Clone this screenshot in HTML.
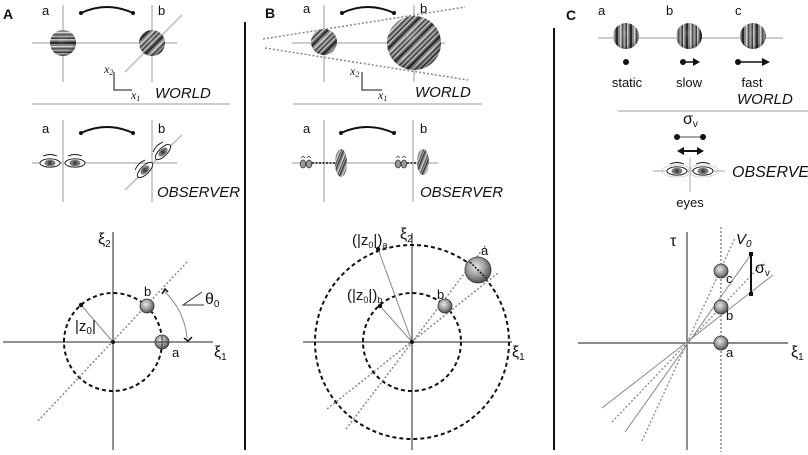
<!DOCTYPE html>
<html><head><meta charset="utf-8"><style>
html,body{margin:0;padding:0;background:#fff;}
svg{display:block;}
text{font-family:"Liberation Sans",sans-serif;fill:#111;}
.it{font-style:italic;}
.sr{font-family:"Liberation Serif",serif;font-style:italic;}
</style></head><body>
<svg width="808" height="455" viewBox="0 0 808 455" xmlns="http://www.w3.org/2000/svg">
<defs>
<g id="stripes">
 <rect x="0" y="-50" width="2" height="100" fill="#2a2a2a"/>
 <rect x="2" y="-50" width="2" height="100" fill="#8a8a8a"/>
 <rect x="4" y="-50" width="1.5" height="100" fill="#d8d8d8"/>
 <rect x="5.5" y="-50" width="2" height="100" fill="#555"/>
 <rect x="7.5" y="-50" width="2" height="100" fill="#a5a5a5"/>
 <rect x="9.5" y="-50" width="1.5" height="100" fill="#3a3a3a"/>
 <rect x="11" y="-50" width="1.5" height="100" fill="#c8c8c8"/>
 <rect x="12.5" y="-50" width="1.5" height="100" fill="#666"/>
</g>
<pattern id="gv" patternUnits="userSpaceOnUse" width="14" height="60"><use href="#stripes" y="50"/></pattern>
<pattern id="gh" patternUnits="userSpaceOnUse" width="14" height="60" patternTransform="rotate(90)"><use href="#stripes" y="50"/></pattern>
<pattern id="gd" patternUnits="userSpaceOnUse" width="14" height="60" patternTransform="rotate(45)"><use href="#stripes" y="50"/></pattern>
<pattern id="gs" patternUnits="userSpaceOnUse" width="9" height="60" patternTransform="rotate(22) scale(0.65 1)"><use href="#stripes" y="50"/></pattern>
<radialGradient id="ball" cx="0.42" cy="0.38" r="0.65">
 <stop offset="0" stop-color="#e8e8e8"/><stop offset="0.55" stop-color="#999"/><stop offset="1" stop-color="#4a4a4a"/>
</radialGradient>
<radialGradient id="shade" cx="0.45" cy="0.4" r="0.6">
 <stop offset="0" stop-color="#fff" stop-opacity="0.15"/><stop offset="0.7" stop-color="#000" stop-opacity="0"/><stop offset="1" stop-color="#000" stop-opacity="0.3"/>
</radialGradient>
<g id="eye">
 <ellipse cx="0" cy="0" rx="10" ry="4.2" fill="#fff" stroke="#111" stroke-width="0.9"/>
 <ellipse cx="0" cy="0" rx="5.5" ry="3.3" fill="#777"/>
 <ellipse cx="0" cy="0" rx="2" ry="2" fill="#444"/>
 <path d="M-7 -7 Q0 -10 7 -7" fill="none" stroke="#111" stroke-width="0.9"/>
</g>
<g id="seye">
 <ellipse cx="0" cy="0" rx="2.8" ry="4" fill="#999" stroke="#333" stroke-width="0.8"/>
 <path d="M-2 -6 L0 -8 L2 -6" fill="none" stroke="#333" stroke-width="0.7"/>
</g>
</defs>

<rect width="808" height="455" fill="#fff"/>

<!-- dividers -->
<line x1="245" y1="22" x2="245" y2="450" stroke="#111" stroke-width="2"/>
<line x1="554" y1="28" x2="554" y2="450" stroke="#111" stroke-width="2"/>

<!-- ===== PANEL A ===== -->
<text x="3" y="19" font-size="14" font-weight="bold">A</text>
<text x="42" y="15" font-size="13">a</text>
<text x="158" y="15" font-size="13">b</text>
<g stroke="#bbb" stroke-width="1.5">
 <line x1="63" y1="5" x2="63" y2="82"/><line x1="152" y1="5" x2="152" y2="82"/>
 <line x1="32" y1="43" x2="177" y2="43"/><line x1="125" y1="72" x2="182" y2="15"/>
</g>
<circle cx="63" cy="43" r="13" fill="url(#gh)"/><circle cx="63" cy="43" r="13" fill="url(#shade)"/>
<circle cx="152" cy="43" r="13" fill="url(#gd)"/><circle cx="152" cy="43" r="13" fill="url(#shade)"/>
<path d="M81 13 Q107 1 133 13" fill="none" stroke="#111" stroke-width="2"/>
<circle cx="81" cy="13" r="2" fill="#111"/><circle cx="133" cy="13" r="2" fill="#111"/>
<polyline points="114,72 114,90 132,90" fill="none" stroke="#111" stroke-width="1"/>
<text x="104" y="73" font-size="12" class="sr">x<tspan font-size="8" dy="2">2</tspan></text>
<text x="131" y="99" font-size="12" class="sr">x<tspan font-size="8" dy="2">1</tspan></text>
<text x="155" y="98" font-size="15" class="it">WORLD</text>
<line x1="32" y1="104" x2="230" y2="104" stroke="#999" stroke-width="1"/>

<text x="42" y="133" font-size="13">a</text>
<text x="158" y="133" font-size="13">b</text>
<g stroke="#bbb" stroke-width="1.5">
 <line x1="63" y1="120" x2="63" y2="202"/><line x1="152" y1="120" x2="152" y2="202"/>
 <line x1="32" y1="163" x2="177" y2="163"/><line x1="125" y1="190" x2="182" y2="135"/>
</g>
<path d="M81 133 Q107 121 133 133" fill="none" stroke="#111" stroke-width="2"/>
<circle cx="81" cy="133" r="2" fill="#111"/><circle cx="133" cy="133" r="2" fill="#111"/>
<use href="#eye" transform="translate(50,163)"/>
<use href="#eye" transform="translate(75,163)"/>
<use href="#eye" transform="translate(163,152) rotate(-45)"/>
<use href="#eye" transform="translate(145,170) rotate(-45)"/>
<text x="157" y="197" font-size="15" class="it">OBSERVER</text>

<!-- A bottom -->
<line x1="113" y1="232" x2="113" y2="450" stroke="#222" stroke-width="1"/>
<line x1="3" y1="342" x2="213" y2="342" stroke="#222" stroke-width="1"/>
<circle cx="113" cy="342" r="49" fill="none" stroke="#111" stroke-width="2" stroke-dasharray="4 3"/>
<line x1="38" y1="421" x2="188" y2="261" stroke="#888" stroke-width="1.5" stroke-dasharray="2 2"/>
<line x1="113" y1="342" x2="81" y2="305" stroke="#888" stroke-width="1"/>
<circle cx="81" cy="305" r="2.2" fill="#111"/>
<circle cx="113" cy="342" r="2" fill="#111"/>
<circle cx="147" cy="306" r="7" fill="url(#ball)" stroke="#333" stroke-width="0.8"/>
<circle cx="162" cy="342" r="7" fill="url(#ball)" stroke="#333" stroke-width="0.8"/>
<line x1="162" y1="336" x2="162" y2="348" stroke="#333" stroke-width="1"/>
<line x1="156" y1="342" x2="168" y2="342" stroke="#333" stroke-width="1"/>
<text x="98" y="244" font-size="16">ξ<tspan font-size="10" dy="3">2</tspan></text>
<text x="214" y="357" font-size="16">ξ<tspan font-size="10" dy="3">1</tspan></text>
<text x="144" y="296" font-size="13">b</text>
<text x="172" y="357" font-size="13">a</text>
<text x="75" y="331" font-size="15">|z<tspan font-size="10" dy="3">0</tspan><tspan dy="-3">|</tspan></text>
<path d="M164 291 A72 72 0 0 1 187 338" fill="none" stroke="#888" stroke-width="1"/>
<path d="M162 294 L165 289 L168 292" fill="none" stroke="#111" stroke-width="1.5"/>
<path d="M184 338 L188 341 L192 337" fill="none" stroke="#111" stroke-width="1.5"/>
<polyline points="202,292 183,305 204,305" fill="none" stroke="#333" stroke-width="1"/>
<text x="205" y="304" font-size="16">θ<tspan font-size="10" dy="3">0</tspan></text>

<!-- ===== PANEL B ===== -->
<text x="265" y="18" font-size="14" font-weight="bold">B</text>
<text x="303" y="13" font-size="13">a</text>
<text x="420" y="13" font-size="13">b</text>
<g stroke="#bbb" stroke-width="1.5">
 <line x1="324" y1="5" x2="324" y2="82"/><line x1="414" y1="5" x2="414" y2="82"/>
 <line x1="292" y1="43" x2="445" y2="43"/>
</g>
<g stroke="#888" stroke-width="1.5" stroke-dasharray="2 2">
 <line x1="263" y1="39" x2="465" y2="7"/><line x1="265" y1="48" x2="468" y2="80"/>
</g>
<circle cx="324" cy="42" r="13" fill="url(#gd)"/><circle cx="324" cy="42" r="13" fill="url(#shade)"/>
<circle cx="414" cy="43" r="27" fill="url(#gd)"/><circle cx="414" cy="43" r="27" fill="url(#shade)"/>
<path d="M342 13 Q368 1 394 13" fill="none" stroke="#111" stroke-width="2"/>
<circle cx="342" cy="13" r="2" fill="#111"/><circle cx="394" cy="13" r="2" fill="#111"/>
<polyline points="362,72 362,90 382,90" fill="none" stroke="#111" stroke-width="1"/>
<text x="350" y="75" font-size="12" class="sr">x<tspan font-size="8" dy="2">2</tspan></text>
<text x="378" y="99" font-size="12" class="sr">x<tspan font-size="8" dy="2">1</tspan></text>
<text x="415" y="97" font-size="15" class="it">WORLD</text>
<line x1="293" y1="104" x2="482" y2="104" stroke="#999" stroke-width="1"/>

<text x="303" y="133" font-size="13">a</text>
<text x="420" y="133" font-size="13">b</text>
<g stroke="#bbb" stroke-width="1.5">
 <line x1="324" y1="120" x2="324" y2="202"/><line x1="413" y1="120" x2="413" y2="202"/>
 <line x1="292" y1="163" x2="438" y2="163"/>
</g>
<path d="M341 133 Q367 121 394 133" fill="none" stroke="#111" stroke-width="2"/>
<circle cx="341" cy="133" r="2" fill="#111"/><circle cx="394" cy="133" r="2" fill="#111"/>
<use href="#seye" transform="translate(303,164)"/><use href="#seye" transform="translate(309,164)"/>
<use href="#seye" transform="translate(398,164)"/><use href="#seye" transform="translate(404,164)"/>
<line x1="312" y1="163" x2="338" y2="163" stroke="#111" stroke-width="1.5" stroke-dasharray="2 1.5"/>
<line x1="407" y1="163" x2="418" y2="163" stroke="#111" stroke-width="1.5" stroke-dasharray="2 1.5"/>
<ellipse cx="341" cy="163" rx="6" ry="14" fill="url(#gs)"/>
<ellipse cx="423" cy="162" rx="6" ry="13" fill="url(#gs)"/>
<text x="420" y="197" font-size="15" class="it">OBSERVER</text>

<!-- B bottom -->
<line x1="412" y1="233" x2="412" y2="450" stroke="#222" stroke-width="1"/>
<line x1="303" y1="342" x2="512" y2="342" stroke="#222" stroke-width="1"/>
<circle cx="412" cy="342" r="97" fill="none" stroke="#111" stroke-width="2" stroke-dasharray="4 3"/>
<circle cx="412" cy="342" r="49" fill="none" stroke="#111" stroke-width="2" stroke-dasharray="4 3"/>
<g stroke="#888" stroke-width="1.5" stroke-dasharray="2 2">
 <line x1="327" y1="409" x2="498" y2="273"/>
 <line x1="346" y1="429" x2="486" y2="245"/>
</g>
<line x1="412" y1="342" x2="378" y2="249" stroke="#888" stroke-width="1"/>
<line x1="412" y1="342" x2="380" y2="306" stroke="#888" stroke-width="1"/>
<circle cx="378" cy="249" r="2.2" fill="#111"/><circle cx="380" cy="306" r="2.2" fill="#111"/>
<circle cx="412" cy="342" r="2" fill="#111"/>
<circle cx="478" cy="270" r="13" fill="url(#ball)" stroke="#333" stroke-width="0.8"/>
<circle cx="445" cy="306" r="7" fill="url(#ball)" stroke="#333" stroke-width="0.8"/>
<line x1="470" y1="262" x2="486" y2="278" stroke="#111" stroke-width="1.5" stroke-dasharray="2 1.5"/>
<text x="400" y="239" font-size="16">ξ<tspan font-size="10" dy="3">2</tspan></text>
<text x="512" y="357" font-size="16">ξ<tspan font-size="10" dy="3">1</tspan></text>
<text x="481" y="255" font-size="13">a</text>
<text x="437" y="299" font-size="13">b</text>
<text x="352" y="245" font-size="15">(|z<tspan font-size="9" dy="3">0</tspan><tspan dy="-3">|)</tspan><tspan font-size="9" dy="3">a</tspan></text>
<text x="347" y="300" font-size="15">(|z<tspan font-size="9" dy="3">0</tspan><tspan dy="-3">|)</tspan><tspan font-size="9" dy="3">b</tspan></text>

<!-- ===== PANEL C ===== -->
<text x="566" y="20" font-size="14" font-weight="bold">C</text>
<text x="598" y="15" font-size="13">a</text>
<text x="666" y="15" font-size="13">b</text>
<text x="735" y="15" font-size="13">c</text>
<line x1="598" y1="38" x2="783" y2="38" stroke="#bbb" stroke-width="1.5"/>
<circle cx="626" cy="36" r="13" fill="url(#gv)"/><circle cx="626" cy="36" r="13" fill="url(#shade)"/>
<circle cx="689" cy="36" r="13" fill="url(#gv)"/><circle cx="689" cy="36" r="13" fill="url(#shade)"/>
<circle cx="753" cy="36" r="13" fill="url(#gv)"/><circle cx="753" cy="36" r="13" fill="url(#shade)"/>
<circle cx="626" cy="62" r="3" fill="#111"/>
<circle cx="683" cy="62" r="3" fill="#111"/>
<line x1="683" y1="62" x2="694" y2="62" stroke="#111" stroke-width="1.5"/>
<polygon points="693,58 700,62 693,66" fill="#111"/>
<circle cx="738" cy="62" r="3" fill="#111"/>
<line x1="738" y1="62" x2="763" y2="62" stroke="#111" stroke-width="1.5"/>
<polygon points="762,58 770,62 762,66" fill="#111"/>
<text x="627" y="87" font-size="13" text-anchor="middle">static</text>
<text x="689" y="87" font-size="13" text-anchor="middle">slow</text>
<text x="752" y="87" font-size="13" text-anchor="middle">fast</text>
<text x="737" y="104" font-size="15" class="it">WORLD</text>
<line x1="618" y1="111" x2="808" y2="111" stroke="#999" stroke-width="1"/>

<text x="683" y="124" font-size="16">σ<tspan font-size="10" dy="3">v</tspan></text>
<line x1="677" y1="137" x2="703" y2="137" stroke="#888" stroke-width="1.5"/>
<circle cx="677" cy="137" r="3" fill="#111"/><circle cx="703" cy="137" r="3" fill="#111"/>
<line x1="683" y1="151" x2="698" y2="151" stroke="#111" stroke-width="2"/>
<polygon points="677,151 684,147 684,155" fill="#111"/>
<polygon points="704,151 697,147 697,155" fill="#111"/>
<line x1="653" y1="171" x2="725" y2="171" stroke="#bbb" stroke-width="1.2"/>
<line x1="690" y1="158" x2="690" y2="192" stroke="#bbb" stroke-width="1.2"/>
<g fill="none" stroke="#aaa" stroke-width="1" stroke-dasharray="1 1">
 <ellipse cx="677" cy="171" rx="15" ry="6"/><ellipse cx="703" cy="171" rx="15" ry="6"/>
</g>
<use href="#eye" transform="translate(677,171)"/>
<use href="#eye" transform="translate(703,171)"/>
<text x="732" y="177" font-size="16" class="it">OBSERVER</text>
<text x="690" y="207" font-size="13" text-anchor="middle">eyes</text>

<!-- C bottom -->
<line x1="687" y1="232" x2="687" y2="450" stroke="#444" stroke-width="1.2"/>
<line x1="578" y1="343" x2="788" y2="343" stroke="#444" stroke-width="1.2"/>
<line x1="721" y1="227" x2="721" y2="452" stroke="#888" stroke-width="1.5" stroke-dasharray="2 2"/>
<g stroke="#888" stroke-width="1.3" stroke-dasharray="2 2">
 <line x1="642" y1="441" x2="735" y2="238"/>
 <line x1="612" y1="422" x2="764" y2="262"/>
</g>
<g stroke="#888" stroke-width="1">
 <line x1="625" y1="432" x2="752" y2="253"/>
 <line x1="602" y1="408" x2="773" y2="275"/>
</g>
<line x1="751" y1="254" x2="751" y2="294" stroke="#111" stroke-width="2"/>
<rect x="749" y="252" width="4" height="4" fill="#111"/>
<rect x="749" y="292" width="4" height="4" fill="#111"/>
<circle cx="721" cy="343" r="7" fill="url(#ball)" stroke="#333" stroke-width="0.8"/>
<circle cx="721" cy="307" r="7" fill="url(#ball)" stroke="#333" stroke-width="0.8"/>
<circle cx="721" cy="271" r="7" fill="url(#ball)" stroke="#333" stroke-width="0.8"/>
<text x="670" y="246" font-size="16">τ</text>
<text x="736" y="244" font-size="15" class="it">V<tspan font-size="10" dy="3">0</tspan></text>
<text x="755" y="273" font-size="16">σ<tspan font-size="10" dy="3">v</tspan></text>
<text x="726" y="283" font-size="13">c</text>
<text x="726" y="320" font-size="13">b</text>
<text x="726" y="357" font-size="13">a</text>
<text x="791" y="357" font-size="16">ξ<tspan font-size="10" dy="3">1</tspan></text>
</svg>
</body></html>
